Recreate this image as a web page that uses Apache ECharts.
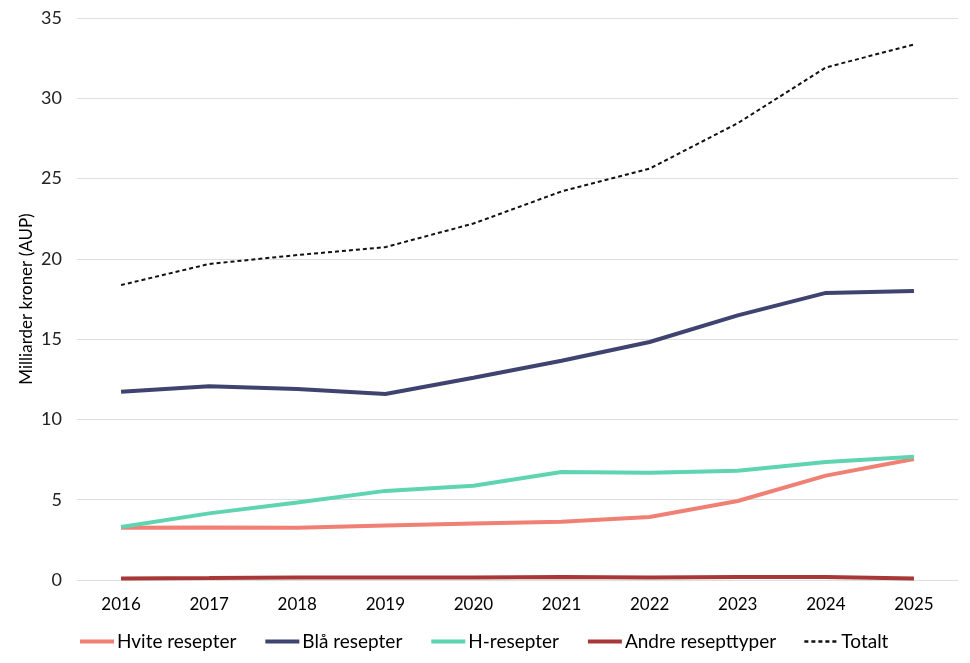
<!DOCTYPE html>
<html>
<head>
<meta charset="utf-8">
<script src="https://cdn.jsdelivr.net/npm/echarts@6/dist/echarts.min.js"></script>
<style>
  html, body { margin: 0; padding: 0; background: #fff; }
  #chart { width: 970px; height: 663px; }
</style>
</head>
<body>
<div id="chart"></div>
<script>
// år
const years = ["2016", "2017", "2018", "2019", "2020", "2021", "2022", "2023", "2024", "2025"];

// milliarder kroner (AUP), lest av figuren
const hvite = [3.25, 3.27, 3.25, 3.4, 3.52, 3.63, 3.92, 4.92, 6.5, 7.53];
const blaa = [11.72, 12.07, 11.9, 11.58, 12.6, 13.65, 14.82, 16.48, 17.88, 18.0];
const hResepter = [3.3, 4.15, 4.82, 5.55, 5.87, 6.73, 6.68, 6.8, 7.35, 7.68];
const andre = [0.1, 0.12, 0.15, 0.15, 0.15, 0.18, 0.15, 0.18, 0.18, 0.1];
const totalt = [18.37, 19.68, 20.24, 20.73, 22.2, 24.2, 25.62, 28.45, 31.92, 33.35];

const yTicks = [0, 5, 10, 15, 20, 25, 30, 35];

const font = "Lato, 'Open Sans', sans-serif";

const chartDom = document.getElementById("chart");
const myChart = echarts.init(chartDom, null, { renderer: "canvas" });

const lineSeries = (name, data, color, width, type) => ({
    name: name,
    type: "line",
    data: data,
    symbol: "none",
    smooth: false,
    lineStyle: { color: color, width: width, type: type || "solid" },
    itemStyle: { color: color }
});

// legend-linjer i full tykkelse
const legendItem = (name, width) => ({ name: name, lineStyle: { width: width } });

const option = {
    animation: false,
    backgroundColor: "#fff",
    grid: { left: 77, right: 12, top: 18, bottom: 83 },
    legend: {
        top: 627,
        left: 73,
        itemWidth: 34,
        itemHeight: 4,
        itemGap: 27,
        itemStyle: { opacity: 0 },
        textStyle: { fontFamily: font, fontSize: 19, color: "#000", padding: [0, 0, 0, -2] },
        data: [
            legendItem("Hvite resepter", 4),
            legendItem("Blå resepter", 4),
            legendItem("H-resepter", 4),
            legendItem("Andre resepttyper", 4),
            legendItem("Totalt", 2.5)
        ]
    },
    xAxis: {
        type: "category",
        data: years,
        boundaryGap: true,
        axisLine: { show: false },
        axisTick: { show: false },
        axisLabel: { fontFamily: font, fontSize: 17, color: "#000", margin: 16 }
    },
    yAxis: {
        type: "value",
        min: yTicks[0],
        max: yTicks[yTicks.length - 1],
        interval: 5,
        name: "Milliarder kroner (AUP)",
        nameLocation: "middle",
        nameGap: 42,
        nameMoveOverlap: false,
        nameTextStyle: { fontFamily: font, fontSize: 17, color: "#000" },
        axisLine: { show: false },
        axisTick: { show: false },
        axisLabel: { fontFamily: font, fontSize: 18, color: "#222", margin: 15 },
        splitLine: { lineStyle: { color: "#dedede", width: 1 } }
    },
    series: [
        lineSeries("Hvite resepter", hvite, "#f07f74", 4),
        lineSeries("Blå resepter", blaa, "#3f4370", 4),
        lineSeries("H-resepter", hResepter, "#5fd4b0", 4),
        lineSeries("Andre resepttyper", andre, "#a83838", 4),
        lineSeries("Totalt", totalt, "#111", 2, [4, 3])
    ]
};

myChart.setOption(option);
</script>
</body>
</html>
